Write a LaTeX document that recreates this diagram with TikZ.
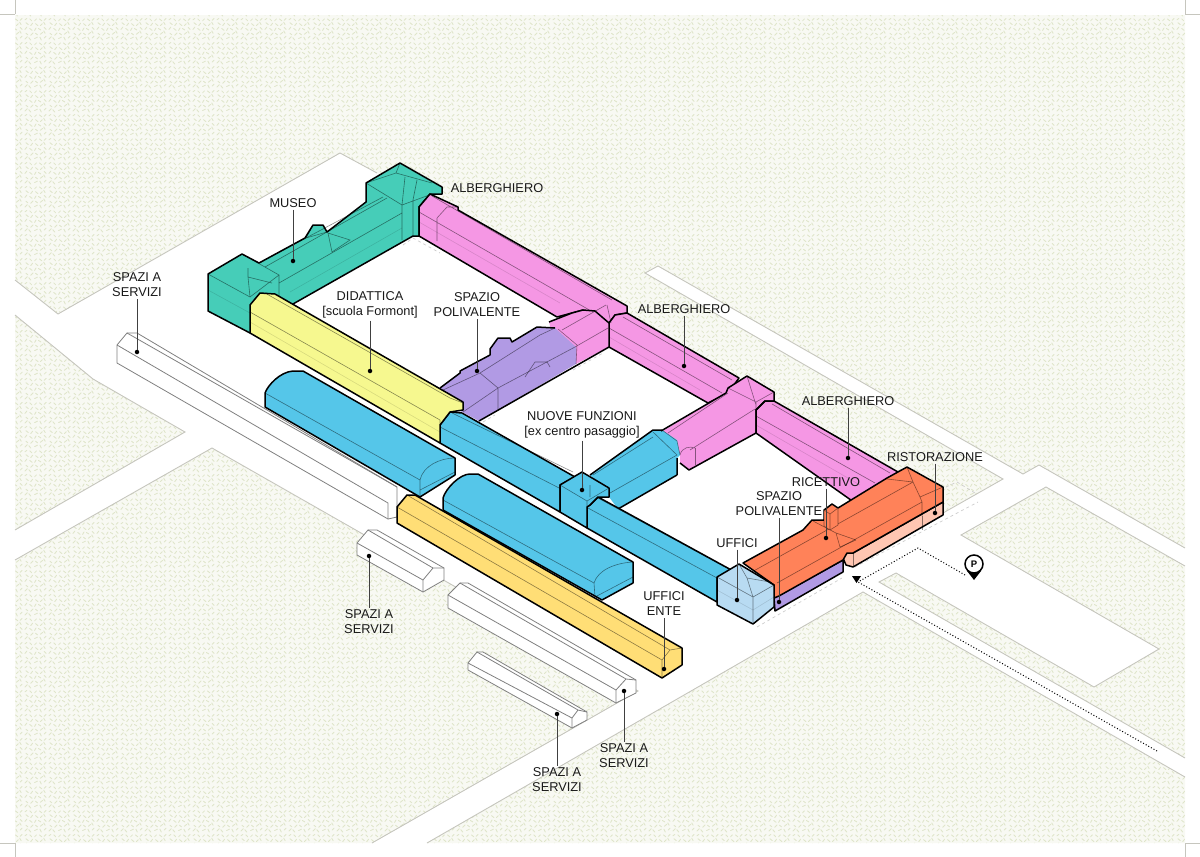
\documentclass[tikz,border=0pt]{standalone}
\usepackage{fontspec}
\setmainfont{Liberation Sans}
\usepackage{tikz}
\usetikzlibrary{patterns}

\definecolor{pratoBase}{HTML}{F8F9F3}
\definecolor{pratoSegno}{HTML}{DFE5CA}
\definecolor{bordo}{HTML}{C6C6BE}
\definecolor{museo}{HTML}{46CDB8}
\definecolor{alberghiero}{HTML}{F597E4}
\definecolor{polivalente}{HTML}{B19AE4}
\definecolor{didattica}{HTML}{F6F88F}
\definecolor{funzioni}{HTML}{55C6E9}
\definecolor{ente}{HTML}{FFDE76}
\definecolor{uffici}{HTML}{B8DBF2}
\definecolor{ricettivo}{HTML}{FF8259}
\definecolor{ristoro}{HTML}{FFC6B2}

% Trama del prato
\newcommand{\tratto}[4]{\pgfpathmoveto{\pgfqpoint{#1pt}{#2pt}}\pgfpathlineto{\pgfqpoint{#3pt}{#4pt}}}
\pgfdeclarepatternformonly{vermi}{\pgfqpoint{0pt}{0pt}}{\pgfqpoint{24pt}{24pt}}{\pgfqpoint{24pt}{24pt}}{
	\pgfsetlinewidth{0.9pt}
	\pgfsetroundcap
	\tratto{1}{2}{3.5}{4.5}\tratto{7}{1}{5}{3.5}\tratto{11}{2.5}{14}{4}\tratto{18}{1}{16.5}{4}\tratto{21}{3}{23}{5}
	\tratto{2}{8}{4}{6.5}\tratto{7}{6}{9.5}{8.5}\tratto{12}{8}{14}{6.5}\tratto{17}{7}{19.5}{9}\tratto{22}{8}{20.5}{10.5}
	\tratto{1}{12}{3}{14.5}\tratto{6}{13}{8.5}{11}\tratto{11}{11}{12.5}{13.5}\tratto{15}{13}{17.5}{11.5}\tratto{21}{14}{23}{12}
	\tratto{2}{19}{4.5}{17}\tratto{7}{16}{9}{18.5}\tratto{12}{18}{14.5}{16}\tratto{17}{16}{19}{18}\tratto{22}{17}{20.5}{19.5}
	\tratto{1}{22}{3}{23.5}\tratto{6}{23}{8}{21}\tratto{11}{21}{13}{23}\tratto{16}{23}{18.5}{21}\tratto{21}{21.5}{23}{23.5}
	\pgfusepath{stroke}
}

\tikzset{
	prato/.style={preaction={fill=pratoBase}, pattern=vermi, pattern color=pratoSegno},
	contorno/.style={draw=black, line width=1.5pt, line join=round},
	interno/.style={draw=black, draw opacity=0.45, line width=0.6pt},
	tenue/.style={draw=black, draw opacity=0.12, line width=0.6pt},
	servizio/.style={draw=black!50, fill=white, line width=0.8pt, line join=round},
	strada/.style={draw=bordo, line width=0.9pt},
	traccia/.style={draw=black!20, line width=0.7pt, dashed},
	percorso/.style={draw=black, line width=1pt, dotted},
	etichetta/.style={font=\fontsize{12.8}{15}\selectfont, text=black!90, align=center, inner sep=2pt},
	richiamo/.style={draw=black!75, line width=0.8pt},
	punto/.style={circle, fill=black, inner sep=0pt, minimum size=4.5pt}
}

\begin{document}
\begin{tikzpicture}[x=1pt, y=-1pt]
	\useasboundingbox (0,0) rectangle (1200,857);

	% Aree verdi
	\path[prato] (15,15) -- (1185,15) -- (1185,548) -- (1039,465) -- (1023,474) -- (658,266) -- (645,273) -- (1003,479) -- (943,513) -- (900,490) -- (430,222) -- (377,173) -- (340,153) -- (58,314) -- (15,280) -- cycle;
	\path[prato] (15,315) -- (93,379) -- (185,432) -- (15,530) -- cycle;
	\path[prato] (15,560) -- (212,448) -- (638,691) -- (372,843) -- (15,843) -- cycle;
	\path[prato] (961,535) -- (1046,487) -- (1185,566) -- (1185,758) -- (879,582) -- (896,573) -- (1094,687) -- (1159,649) -- cycle;
	\path[prato] (863,592) -- (1185,777) -- (1185,843) -- (427,843) -- cycle;

	% Bordi delle strade
	\draw[strada] (15,280) -- (58,314) -- (340,153) -- (377,173);
	\draw[strada] (1185,548) -- (1039,465) -- (1023,474) -- (658,266) -- (645,273) -- (1003,479) -- (943,513);
	\draw[strada] (15,315) -- (93,379) -- (185,432) -- (15,530);
	\draw[strada] (15,560) -- (212,448) -- (638,691) -- (372,843);
	\draw[strada] (1185,566) -- (1046,487) -- (961,535) -- (1159,649) -- (1094,687) -- (896,573) -- (879,582) -- (1185,758);
	\draw[strada] (1185,777) -- (863,592) -- (427,843);

	% Tacche di taglio
	\foreach \xa/\xb in {15/0, 1185/1200}
		\foreach \ya/\yb in {14/0, 843/857} {
			\draw[bordo, line width=0.8pt] (\xa,\ya) -- (\xa,\yb);
			\draw[bordo, line width=0.8pt] (\xa,\ya) -- (\xb,\ya);
		}

	% Tracce a terra
	\draw[traccia] (757,627) -- (842,578);
	\draw[traccia] (855,567) -- (978,502);
	\draw[traccia] (483,422) -- (495,415);
	\draw[traccia] (573,370) -- (603,353);
	\draw[traccia] (403,245) -- (413,238) -- (440,253);
	\draw[traccia] (946,487) -- (957,482) -- (975,493);

	% Spazi a servizi
	\draw[servizio] (117,345) -- (127,333) -- (137,333) -- (397,487) -- (397,517) -- (388,519) -- (117,363) -- cycle;
	\draw[servizio, fill=none] (117,345) -- (388,503) -- (388,519) (127,333) -- (397,487);
	\draw[servizio] (357,543) -- (368,530) -- (377,530) -- (444,568) -- (444,580) -- (423,592) -- (357,555) -- cycle;
	\draw[servizio, fill=none] (357,543) -- (423,580) -- (423,592) (423,580) -- (433,568) -- (444,568) (368,530) -- (433,568);
	\draw[servizio] (448,595) -- (460,583) -- (468,583) -- (636,680) -- (636,693) -- (616,703) -- (448,608) -- cycle;
	\draw[servizio, fill=none] (448,595) -- (616,690) -- (616,703) (616,690) -- (626,679) -- (636,680) (460,583) -- (626,679);
	\draw[servizio] (468,663) -- (477,652) -- (483,652) -- (587,712) -- (587,720) -- (572,728) -- (468,670) -- cycle;
	\draw[servizio, fill=none] (468,663) -- (572,718) -- (572,728) (572,718) -- (578,710) -- (587,712) (477,652) -- (578,710);

	% Museo
	\draw[contorno, fill=museo] (208,274) -- (242,254) -- (259,263) -- (305,238) -- (313,225) -- (323,225) -- (327,232) -- (366,202) -- (366,183) -- (400,163) -- (442,187) -- (442,194) -- (430,194) -- (419,207) -- (419,236) -- (413,236) -- (293,304) -- (250,333) -- (208,311) -- cycle;
	\draw[interno] (208,274) -- (250,297) -- (279,275) -- (242,254) (279,275) -- (279,297) (248,268) -- (248,277) -- (250,297) (248,277) -- (272,283);
	\draw[interno] (259,263) -- (383,197) (265,267) -- (387,198) (279,283) -- (402,213);
	\draw[interno] (366,183) -- (402,205) -- (432,194) (400,163) -- (396,173) -- (366,183) (396,173) -- (432,183) (405,177) -- (402,205) -- (402,240) (417,180) -- (413,200) -- (413,236);
	\draw[interno] (328,233) -- (350,240) -- (332,252) -- cycle (313,225) -- (306,238) (306,238) -- (327,232);
	\draw[tenue] (208,290) -- (250,313) (290,292) -- (402,228);

	% Alberghiero, prima ala
	\draw[contorno, fill=alberghiero] (419,207) -- (430,194) -- (458,207) -- (458,210) -- (627,306) -- (627,313) -- (615,315) -- (609,323) -- (583,310) -- (557,317) -- (419,236) -- cycle;
	\draw[interno] (419,212) -- (605,319) (432,196) -- (612,300) (437,218) -- (437,241) (437,218) -- (447,207) -- (458,207);
	\draw[tenue] (419,222) -- (560,303);

	% Alberghiero, seconda ala
	\draw[contorno, fill=alberghiero] (609,323) -- (615,315) -- (627,313) -- (739,378) -- (728,393) -- (708,403) -- (609,347) -- cycle;
	\draw[interno] (609,328) -- (722,393) (623,317) -- (732,380);
	\draw[tenue] (609,337) -- (700,390);

	% Spazio polivalente e corpo trasversale
	\fill[alberghiero] (549,322) -- (572,313) -- (583,310) -- (595,311) -- (609,323) -- (609,347) -- (576,364) -- (555,345) -- cycle;
	\fill[polivalente] (440,388) -- (460,373) -- (460,371) -- (490,355) -- (490,349) -- (498,338) -- (510,338) -- (512,342) -- (537,327) -- (555,328) -- (576,347) -- (576,364) -- (479,421) -- (440,400) -- cycle;
	\draw[contorno] (440,388) -- (460,373) -- (460,371) -- (490,355) -- (490,349) -- (498,338) -- (510,338) -- (512,342) -- (537,327) -- (555,328) (549,322) -- (572,313) -- (583,310) -- (595,311) -- (609,323) -- (609,347) -- (479,421);
	\draw[interno] (443,390) -- (480,373) -- (540,335) -- (555,328) (463,412) -- (498,388) -- (575,347) -- (608,328) (480,373) -- (498,388) -- (498,410) (558,329) -- (577,345) -- (576,364) (607,305) -- (611,323) (562,330) -- (606,305);
	\draw[interno] (525,377) -- (535,362) -- (547,362) -- (550,367);

	% Alberghiero, corpo verso le nuove funzioni
	\fill[alberghiero] (661,432) -- (726,393) -- (728,388) -- (747,376) -- (774,392) -- (774,401) -- (765,401) -- (756,410) -- (756,433) -- (689,470) -- (680,463) -- (680,455) -- (677,440) -- cycle;
	\fill[alberghiero] (677,440) -- (695,448) -- (695,465) -- (689,470) -- (680,463) -- (680,455) -- cycle;

	% Alberghiero, terza ala
	\draw[contorno, fill=alberghiero] (756,410) -- (765,401) -- (774,401) -- (905,476) -- (865,510) -- (756,433) -- cycle;
	\draw[interno] (756,416) -- (875,483) (772,404) -- (890,473);
	\draw[tenue] (756,425) -- (860,485);

	% Nuove funzioni, corpo trasversale
	\fill[funzioni] (590,475) -- (653,430) -- (662,430) -- (677,440) -- (680,455) -- (677,458) -- (677,475) -- (618,509) -- (609,497) -- cycle;
	\draw[contorno] (590,475) -- (653,430) -- (662,430) (677,475) -- (618,509);
	\draw[contorno] (677,458) -- (677,475) (726,393) -- (661,431) (726,393) -- (728,388) -- (747,376) -- (774,392) -- (774,401) -- (765,401) -- (756,410) -- (756,433) -- (689,470) -- (680,463);
	\draw[interno] (610,493) -- (677,455) -- (653,432) (593,475) -- (653,437) (662,430) -- (677,441) -- (680,455) (668,433) -- (728,393) (690,450) -- (755,409) (728,388) -- (756,402) -- (774,392) (747,376) -- (756,405) (756,402) -- (756,433) (680,455) .. controls (682,447) and (690,446) .. (695,448);
	\draw[interno] (695,448) -- (695,465);

	% Nuove funzioni, ala lunga
	\draw[contorno, fill=funzioni] (440,425) -- (450,412) -- (462,413) -- (575,477) -- (560,485) -- (560,512) -- (440,443) -- cycle;
	\draw[interno] (452,413) -- (573,472) (440,427) -- (563,490);

	% Nuove funzioni, ala sud
	\draw[contorno, fill=funzioni] (587,507) -- (590,505) -- (598,497) -- (735,572) -- (717,578) -- (717,602) -- (587,528) -- cycle;
	\draw[interno] (598,498) -- (725,567) (588,508) -- (717,578);

	% Nuove funzioni, corpo d'angolo
	\draw[contorno, fill=funzioni] (560,485) -- (582,472) -- (609,488) -- (609,497) -- (598,497) -- (590,505) -- (587,507) -- (587,528) -- (560,512) -- cycle;
	\draw[interno] (560,485) -- (587,501) -- (609,488) (582,472) -- (583,490) (590,485) -- (590,497) (587,501) -- (587,528);

	% Didattica
	\draw[contorno, fill=didattica] (250,305) -- (260,293) -- (275,294) -- (463,402) -- (463,410) -- (450,412) -- (440,425) -- (440,443) -- (250,333) -- cycle;
	\draw[interno] (250,312) -- (440,420) (265,293) -- (450,398) (440,420) -- (440,425) (450,398) -- (463,403);
	\draw[tenue] (250,322) -- (440,432);

	% Volte
	\draw[contorno, fill=funzioni] (265,393) .. controls (268,385) and (280,372) .. (293,371) -- (303,371) -- (455,458) -- (455,475) -- (420,497) -- (265,407) -- cycle;
	\draw[interno] (265,393) -- (420,480) -- (420,497) (420,480) .. controls (423,466) and (440,458) .. (455,458) (420,490) -- (455,472);
	\draw[contorno, fill=funzioni] (443,498) .. controls (446,488) and (460,474) .. (470,474) -- (478,474) -- (633,562) -- (633,583) -- (602,600) -- (443,510) -- cycle;
	\draw[interno] (443,500) -- (594,583) -- (595,597) (594,583) .. controls (598,570) and (615,563) .. (633,562) (595,597) -- (633,577);

	% Uffici ente
	\draw[contorno, fill=ente] (397,507) -- (407,495) -- (415,495) -- (682,648) -- (682,665) -- (662,678) -- (397,523) -- cycle;
	\draw[interno] (397,507) -- (662,660) -- (662,678) (662,660) -- (670,650) -- (682,648) (407,495) -- (670,650);

	% Spazio polivalente al piede
	\draw[contorno, fill=polivalente] (774,598) -- (843,560) -- (843,572) -- (775,611) -- cycle;

	% Ristorazione e ricettivo
	\draw[contorno, fill=ristoro] (853,553) -- (943,502) -- (943,515) -- (853,567) -- (846,565) -- (843,558) -- (847,553) -- cycle;
	\draw[interno] (853,553) -- (853,567) (922,516) -- (922,530);
	\draw[contorno, fill=ricettivo] (743,563) -- (803,530) -- (812,520) -- (824,520) -- (824,510) -- (832,504) -- (838,508) -- (887,478) -- (907,467) -- (943,487) -- (943,502) -- (853,553) -- (847,553) -- (843,560) -- (779,596) -- (774,598) -- (774,585) -- cycle;
	\draw[interno] (750,573) -- (913,482) (777,583) -- (922,502) (907,467) -- (913,482) -- (920,497) -- (922,502) -- (922,516) (913,482) -- (887,479) (920,497) -- (943,487);
	\draw[interno] (813,521) -- (836,533) -- (856,540) (836,533) -- (840,547) -- (856,540);
	\draw[interno, fill=ricettivo] (824,510) -- (830,514) -- (838,508) -- (838,525) -- (830,530) -- (824,526) -- cycle (830,514) -- (830,530);

	% Uffici
	\draw[contorno, fill=uffici] (717,577) -- (739,564) -- (774,585) -- (774,607) -- (753,624) -- (717,605) -- cycle;
	\draw[interno] (717,577) -- (753,597) -- (774,585) (753,597) -- (753,624) (739,564) -- (747,578) -- (770,582) (747,578) -- (753,597);
	\draw[tenue] (717,590) -- (753,610) -- (774,597);

	% Percorso e parcheggio
	\coordinate (arrivo) at (858,582);
	\coordinate (finePercorso) at (1157,751);
	\coordinate (svolta) at (918,548);
	\coordinate (sosta) at (965,575);
	\draw[percorso] (finePercorso) -- (arrivo);
	\draw[percorso] (sosta) -- (svolta) -- (arrivo);
	\fill[black] (852,576) -- (861,576) -- (856.5,583) -- cycle;
	\fill[black] (967,571) -- (981,571) -- (974,580) -- cycle;
	\node[circle, draw=black, fill=white, line width=1.5pt, minimum size=18pt, inner sep=0pt, font=\fontsize{9.5}{9.5}\selectfont\bfseries] (parcheggio) at (974,564) {P};

	% Etichette
	\node[etichetta] (museoLab) at (293,203) {MUSEO};
	\node[punto] (museoDot) at (293,261) {};
	\draw[richiamo] (museoLab) -- (museoDot);

	\node[etichetta] (alb1Lab) at (497,188) {ALBERGHIERO};

	\node[etichetta] (serv1Lab) at (137,285) {SPAZI A\\SERVIZI};
	\node[punto] (serv1Dot) at (137,352) {};
	\draw[richiamo] (serv1Lab) -- (serv1Dot);

	\node[etichetta] (didaLab) at (370,305) {DIDATTICA\\{[scuola Formont]}};
	\node[punto] (didaDot) at (370,371) {};
	\draw[richiamo] (didaLab) -- (didaDot);

	\node[etichetta] (poli1Lab) at (477,305) {SPAZIO\\POLIVALENTE};
	\node[punto] (poli1Dot) at (477,371) {};
	\draw[richiamo] (poli1Lab) -- (poli1Dot);

	\node[etichetta] (alb2Lab) at (684,309) {ALBERGHIERO};
	\node[punto] (alb2Dot) at (684,366) {};
	\draw[richiamo] (alb2Lab) -- (alb2Dot);

	\node[etichetta] (nuoveLab) at (582,425) {NUOVE FUNZIONI\\{[ex centro pasaggio]}};
	\node[punto] (nuoveDot) at (582,490) {};
	\draw[richiamo] (nuoveLab) -- (nuoveDot);

	\node[etichetta] (alb3Lab) at (848,401) {ALBERGHIERO};
	\node[punto] (alb3Dot) at (848,458) {};
	\draw[richiamo] (alb3Lab) -- (alb3Dot);

	\node[etichetta] (ristLab) at (935,457) {RISTORAZIONE};
	\node[punto] (ristDot) at (935,513) {};
	\draw[richiamo] (ristLab) -- (ristDot);

	\node[etichetta] (ricLab) at (826,482) {RICETTIVO};
	\node[punto] (ricDot) at (826,538) {};
	\draw[richiamo] (ricLab) -- (ricDot);

	\node[etichetta] (poli2Lab) at (779,504) {SPAZIO\\POLIVALENTE};
	\node[punto] (poli2Dot) at (779,602) {};
	\draw[richiamo] (poli2Lab) -- (poli2Dot);

	\node[etichetta] (uffLab) at (737,543) {UFFICI};
	\node[punto] (uffDot) at (737,600) {};
	\draw[richiamo] (uffLab) -- (uffDot);

	\node[etichetta] (enteLab) at (664,604) {UFFICI\\ENTE};
	\node[punto] (enteDot) at (664,669) {};
	\draw[richiamo] (enteLab) -- (enteDot);

	\node[etichetta] (serv2Lab) at (369,622) {SPAZI A\\SERVIZI};
	\node[punto] (serv2Dot) at (369,556) {};
	\draw[richiamo] (serv2Lab) -- (serv2Dot);

	\node[etichetta] (serv3Lab) at (624,756) {SPAZI A\\SERVIZI};
	\node[punto] (serv3Dot) at (624,691) {};
	\draw[richiamo] (serv3Lab) -- (serv3Dot);

	\node[etichetta] (serv4Lab) at (557,780) {SPAZI A\\SERVIZI};
	\node[punto] (serv4Dot) at (557,714) {};
	\draw[richiamo] (serv4Lab) -- (serv4Dot);

\end{tikzpicture}
\end{document}
